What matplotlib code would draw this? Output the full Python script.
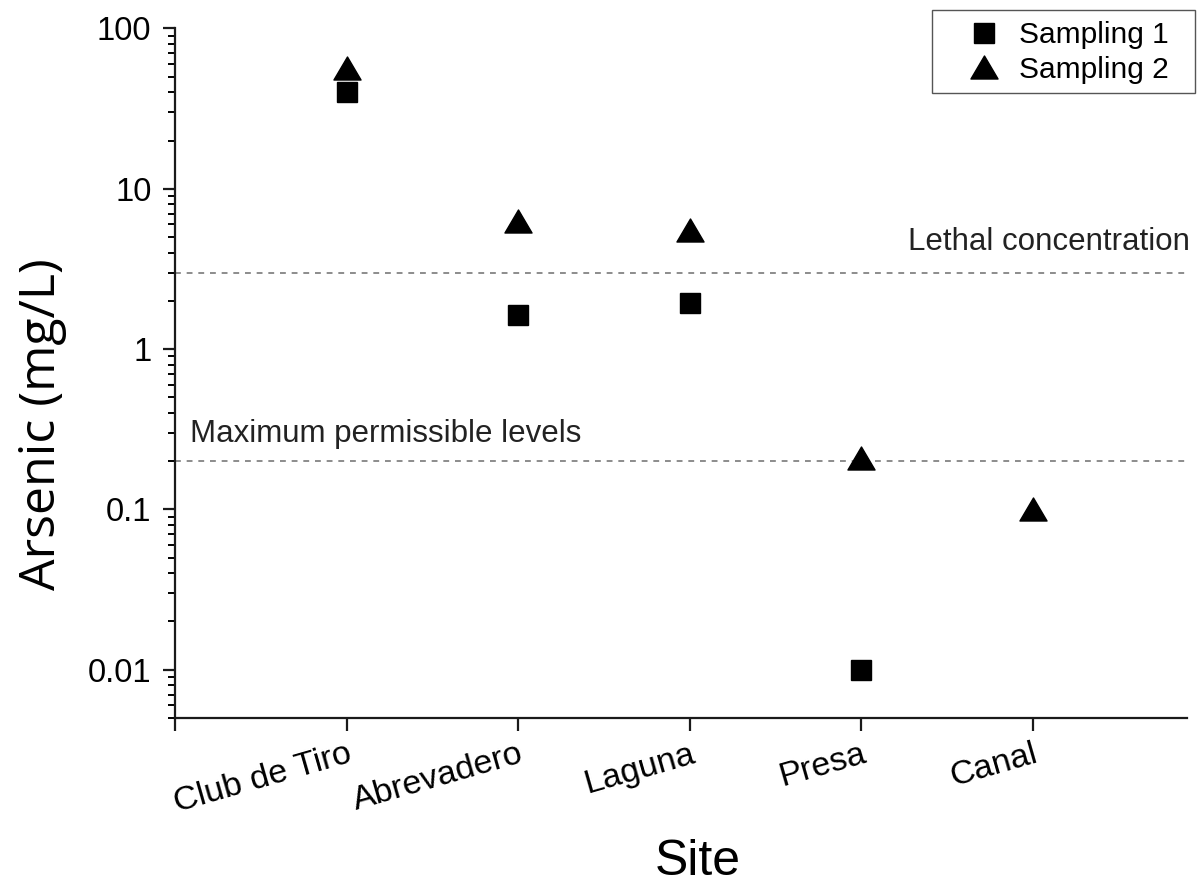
import numpy as np
import matplotlib
matplotlib.use("Agg")
import matplotlib.pyplot as plt
from matplotlib.path import Path
from matplotlib.patches import Rectangle
from matplotlib.ticker import LogLocator, NullFormatter, FixedLocator

plt.rcParams['font.family'] = ['Liberation Sans', 'DejaVu Sans']

# data
sites = ["Club de Tiro", "Abrevadero", "Laguna", "Presa", "Canal"]
sampling1 = [40, 1.64, 1.94, 0.01, np.nan]
sampling2 = [57, 6.3, 5.5, 0.21, 0.1]
lethal_level = 3.0
max_permissible = 0.2

x = np.arange(1, len(sites) + 1)

# slightly flattened triangle like the original
tri = Path([(-1, -0.85), (1, -0.85), (0, 0.85), (-1, -0.85)],
           [Path.MOVETO, Path.LINETO, Path.LINETO, Path.CLOSEPOLY])

W, H = 1204, 888
fig = plt.figure(figsize=(W / 100, H / 100), dpi=100)
ax = fig.add_axes([175/W, 1 - 718/H, 1012/W, (718 - 28.5)/H])

ax.plot(x, sampling1, ls='none', marker='s', ms=14.4, color='black',
        mec='black', label='Sampling 1', zorder=3)
ax.plot(x, sampling2, ls='none', marker=tri, ms=19.5, color='black',
        mec='black', label='Sampling 2', zorder=3)

ax.axhline(lethal_level, color='#8c8c8c', lw=1.4, ls=(0, (3, 3)), zorder=1)
ax.axhline(max_permissible, color='#8c8c8c', lw=1.4, ls=(0, (3, 3)), zorder=1)

ax.annotate("Lethal concentration", xy=(5.9, lethal_level), xytext=(2, 16.5),
            textcoords='offset points', ha='right', va='baseline',
            fontsize=22.5, color='#222222')
ax.annotate("Maximum permissible levels", xy=(0.09, max_permissible),
            xytext=(0, 14), textcoords='offset points', ha='left',
            va='baseline', fontsize=22.5, color='#222222')

ax.set_yscale('log')
ax.set_ylim(0.005, 100)
ax.set_xlim(0, 5.9)

ax.yaxis.set_major_locator(FixedLocator([0.01, 0.1, 1, 10, 100]))
ax.set_yticklabels(["0.01", "0.1", "1", "10", "100"])
ax.yaxis.set_minor_locator(LogLocator(base=10, subs=np.arange(2, 10), numticks=20))
ax.yaxis.set_minor_formatter(NullFormatter())

ax.set_xticks(np.concatenate([[0], x]))
ax.set_xticklabels([""] + sites, rotation=16, ha='right',
                   rotation_mode='anchor')

for side in ['top', 'right']:
    ax.spines[side].set_visible(False)
for side in ['left', 'bottom']:
    ax.spines[side].set_linewidth(1.6)
    ax.spines[side].set_color('#1a1a1a')

ax.tick_params(axis='both', which='major', direction='out', length=9,
               width=1.6, labelsize=23.5, color='#1a1a1a')
ax.tick_params(axis='y', which='minor', direction='out', length=5, width=1.4)
ax.tick_params(axis='x', which='major', labelsize=24.5, pad=6)
ax.tick_params(axis='y', which='major', pad=8)

fig.text(42/W, 1 - 424/H, "Arsenic (mg/L)", rotation=90, ha='center',
         va='center', fontsize=36, family=['Open Sans', 'DejaVu Sans'])
fig.text(698/W, 1 - 862/H, "Site", ha='center', va='center', fontsize=36)

# legend without its own frame, framed by a rectangle like the original
leg = fig.legend(loc='upper left', bbox_to_anchor=(958/W, 1 - 21/H),
                 fontsize=21.5, frameon=False, handlelength=1.75,
                 handletextpad=0.3, borderpad=0, labelspacing=0.22,
                 borderaxespad=0)
fig.patches.append(Rectangle((932/W, 1 - 93/H), 263/W, 83/H,
                             transform=fig.transFigure, fill=False,
                             edgecolor='#555555', lw=1.0))

fig.savefig("out.png", dpi=100)
